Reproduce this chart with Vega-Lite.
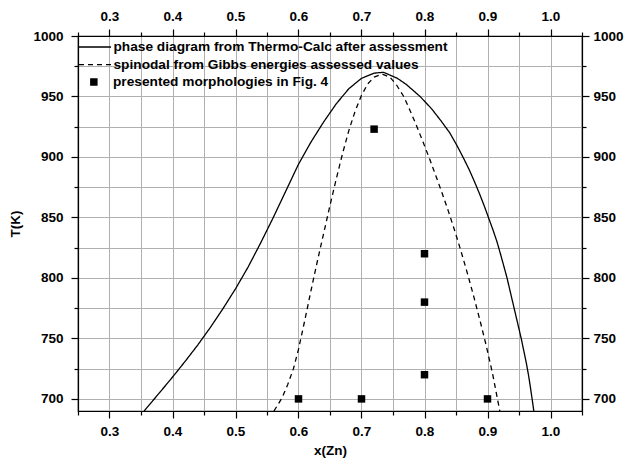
{
  "$schema": "https://vega.github.io/schema/vega-lite/v6.json",
  "autosize": {"type": "none"},
  "width": 504,
  "height": 375,
  "padding": {"left": 78, "top": 36, "right": 42, "bottom": 52},
  "background": "white",
  "config": {
    "view": {"stroke": "black", "strokeWidth": 1.2},
    "font": "Liberation Sans",
    "axis": {
      "domainColor": "black",
      "domainWidth": 1.2,
      "tickColor": "black",
      "tickWidth": 1.2,
      "labelFont": "Liberation Sans",
      "labelFontWeight": "bold",
      "labelFontSize": 13.5,
      "labelColor": "black",
      "titleFont": "Liberation Sans",
      "titleFontWeight": "bold",
      "titleFontSize": 13.5,
      "titleColor": "black",
      "gridColor": "#b0b0b0",
      "gridWidth": 1,
      "gridOpacity": 1,
      "labelOverlap": false
    },
    "legend": {
      "labelFont": "Liberation Sans",
      "labelFontWeight": "bold",
      "labelFontSize": 13.7,
      "labelColor": "black",
      "labelLimit": 0,
      "padding": 0,
      "clipHeight": 16,
      "rowPadding": 1.6
    }
  },
  "datasets": {
    "curves": [
      {"series": "phase diagram from Thermo-Calc after assessment", "i": 1, "x": 0.355, "T": 690},
      {"series": "phase diagram from Thermo-Calc after assessment", "i": 2, "x": 0.38, "T": 705.5},
      {"series": "phase diagram from Thermo-Calc after assessment", "i": 3, "x": 0.40, "T": 718},
      {"series": "phase diagram from Thermo-Calc after assessment", "i": 4, "x": 0.42, "T": 731},
      {"series": "phase diagram from Thermo-Calc after assessment", "i": 5, "x": 0.44, "T": 744.5},
      {"series": "phase diagram from Thermo-Calc after assessment", "i": 6, "x": 0.46, "T": 759},
      {"series": "phase diagram from Thermo-Calc after assessment", "i": 7, "x": 0.48, "T": 774.5},
      {"series": "phase diagram from Thermo-Calc after assessment", "i": 8, "x": 0.50, "T": 791},
      {"series": "phase diagram from Thermo-Calc after assessment", "i": 9, "x": 0.52, "T": 809},
      {"series": "phase diagram from Thermo-Calc after assessment", "i": 10, "x": 0.54, "T": 829},
      {"series": "phase diagram from Thermo-Calc after assessment", "i": 11, "x": 0.56, "T": 850},
      {"series": "phase diagram from Thermo-Calc after assessment", "i": 12, "x": 0.58, "T": 872},
      {"series": "phase diagram from Thermo-Calc after assessment", "i": 13, "x": 0.60, "T": 894},
      {"series": "phase diagram from Thermo-Calc after assessment", "i": 14, "x": 0.62, "T": 912.5},
      {"series": "phase diagram from Thermo-Calc after assessment", "i": 15, "x": 0.64, "T": 929},
      {"series": "phase diagram from Thermo-Calc after assessment", "i": 16, "x": 0.66, "T": 944},
      {"series": "phase diagram from Thermo-Calc after assessment", "i": 17, "x": 0.68, "T": 956.5},
      {"series": "phase diagram from Thermo-Calc after assessment", "i": 18, "x": 0.70, "T": 965},
      {"series": "phase diagram from Thermo-Calc after assessment", "i": 19, "x": 0.72, "T": 969.3},
      {"series": "phase diagram from Thermo-Calc after assessment", "i": 20, "x": 0.735, "T": 970},
      {"series": "phase diagram from Thermo-Calc after assessment", "i": 21, "x": 0.757, "T": 965},
      {"series": "phase diagram from Thermo-Calc after assessment", "i": 22, "x": 0.771, "T": 960},
      {"series": "phase diagram from Thermo-Calc after assessment", "i": 23, "x": 0.793, "T": 950},
      {"series": "phase diagram from Thermo-Calc after assessment", "i": 24, "x": 0.811, "T": 940},
      {"series": "phase diagram from Thermo-Calc after assessment", "i": 25, "x": 0.826, "T": 930},
      {"series": "phase diagram from Thermo-Calc after assessment", "i": 26, "x": 0.840, "T": 920},
      {"series": "phase diagram from Thermo-Calc after assessment", "i": 27, "x": 0.851, "T": 910},
      {"series": "phase diagram from Thermo-Calc after assessment", "i": 28, "x": 0.861, "T": 900},
      {"series": "phase diagram from Thermo-Calc after assessment", "i": 29, "x": 0.8705, "T": 890},
      {"series": "phase diagram from Thermo-Calc after assessment", "i": 30, "x": 0.879, "T": 880},
      {"series": "phase diagram from Thermo-Calc after assessment", "i": 31, "x": 0.887, "T": 870},
      {"series": "phase diagram from Thermo-Calc after assessment", "i": 32, "x": 0.8945, "T": 860},
      {"series": "phase diagram from Thermo-Calc after assessment", "i": 33, "x": 0.9015, "T": 850},
      {"series": "phase diagram from Thermo-Calc after assessment", "i": 34, "x": 0.9085, "T": 840},
      {"series": "phase diagram from Thermo-Calc after assessment", "i": 35, "x": 0.915, "T": 830},
      {"series": "phase diagram from Thermo-Calc after assessment", "i": 36, "x": 0.9205, "T": 820},
      {"series": "phase diagram from Thermo-Calc after assessment", "i": 37, "x": 0.9258, "T": 810},
      {"series": "phase diagram from Thermo-Calc after assessment", "i": 38, "x": 0.931, "T": 800},
      {"series": "phase diagram from Thermo-Calc after assessment", "i": 39, "x": 0.9355, "T": 790},
      {"series": "phase diagram from Thermo-Calc after assessment", "i": 40, "x": 0.940, "T": 780},
      {"series": "phase diagram from Thermo-Calc after assessment", "i": 41, "x": 0.9445, "T": 770},
      {"series": "phase diagram from Thermo-Calc after assessment", "i": 42, "x": 0.949, "T": 760},
      {"series": "phase diagram from Thermo-Calc after assessment", "i": 43, "x": 0.9535, "T": 750},
      {"series": "phase diagram from Thermo-Calc after assessment", "i": 44, "x": 0.9575, "T": 740},
      {"series": "phase diagram from Thermo-Calc after assessment", "i": 45, "x": 0.9615, "T": 730},
      {"series": "phase diagram from Thermo-Calc after assessment", "i": 46, "x": 0.965, "T": 720},
      {"series": "phase diagram from Thermo-Calc after assessment", "i": 47, "x": 0.968, "T": 710},
      {"series": "phase diagram from Thermo-Calc after assessment", "i": 48, "x": 0.9708, "T": 700},
      {"series": "phase diagram from Thermo-Calc after assessment", "i": 49, "x": 0.9735, "T": 690},
      {"series": "spinodal from Gibbs energies assessed values", "i": 1, "x": 0.561, "T": 690},
      {"series": "spinodal from Gibbs energies assessed values", "i": 2, "x": 0.567, "T": 695},
      {"series": "spinodal from Gibbs energies assessed values", "i": 3, "x": 0.574, "T": 701},
      {"series": "spinodal from Gibbs energies assessed values", "i": 4, "x": 0.583, "T": 712},
      {"series": "spinodal from Gibbs energies assessed values", "i": 5, "x": 0.592, "T": 725},
      {"series": "spinodal from Gibbs energies assessed values", "i": 6, "x": 0.60, "T": 741},
      {"series": "spinodal from Gibbs energies assessed values", "i": 7, "x": 0.61, "T": 765},
      {"series": "spinodal from Gibbs energies assessed values", "i": 8, "x": 0.62, "T": 790},
      {"series": "spinodal from Gibbs energies assessed values", "i": 9, "x": 0.63, "T": 814},
      {"series": "spinodal from Gibbs energies assessed values", "i": 10, "x": 0.64, "T": 837},
      {"series": "spinodal from Gibbs energies assessed values", "i": 11, "x": 0.65, "T": 860},
      {"series": "spinodal from Gibbs energies assessed values", "i": 12, "x": 0.66, "T": 882},
      {"series": "spinodal from Gibbs energies assessed values", "i": 13, "x": 0.67, "T": 903},
      {"series": "spinodal from Gibbs energies assessed values", "i": 14, "x": 0.68, "T": 922},
      {"series": "spinodal from Gibbs energies assessed values", "i": 15, "x": 0.69, "T": 938},
      {"series": "spinodal from Gibbs energies assessed values", "i": 16, "x": 0.70, "T": 951},
      {"series": "spinodal from Gibbs energies assessed values", "i": 17, "x": 0.71, "T": 960.5},
      {"series": "spinodal from Gibbs energies assessed values", "i": 18, "x": 0.72, "T": 966},
      {"series": "spinodal from Gibbs energies assessed values", "i": 19, "x": 0.733, "T": 968.5},
      {"series": "spinodal from Gibbs energies assessed values", "i": 20, "x": 0.745, "T": 966},
      {"series": "spinodal from Gibbs energies assessed values", "i": 21, "x": 0.755, "T": 960},
      {"series": "spinodal from Gibbs energies assessed values", "i": 22, "x": 0.767, "T": 950},
      {"series": "spinodal from Gibbs energies assessed values", "i": 23, "x": 0.777, "T": 938.5},
      {"series": "spinodal from Gibbs energies assessed values", "i": 24, "x": 0.788, "T": 925},
      {"series": "spinodal from Gibbs energies assessed values", "i": 25, "x": 0.798, "T": 912},
      {"series": "spinodal from Gibbs energies assessed values", "i": 26, "x": 0.808, "T": 898.5},
      {"series": "spinodal from Gibbs energies assessed values", "i": 27, "x": 0.818, "T": 884.5},
      {"series": "spinodal from Gibbs energies assessed values", "i": 28, "x": 0.828, "T": 870},
      {"series": "spinodal from Gibbs energies assessed values", "i": 29, "x": 0.838, "T": 855},
      {"series": "spinodal from Gibbs energies assessed values", "i": 30, "x": 0.848, "T": 839},
      {"series": "spinodal from Gibbs energies assessed values", "i": 31, "x": 0.858, "T": 822},
      {"series": "spinodal from Gibbs energies assessed values", "i": 32, "x": 0.868, "T": 804},
      {"series": "spinodal from Gibbs energies assessed values", "i": 33, "x": 0.878, "T": 785},
      {"series": "spinodal from Gibbs energies assessed values", "i": 34, "x": 0.888, "T": 765},
      {"series": "spinodal from Gibbs energies assessed values", "i": 35, "x": 0.898, "T": 744},
      {"series": "spinodal from Gibbs energies assessed values", "i": 36, "x": 0.908, "T": 721},
      {"series": "spinodal from Gibbs energies assessed values", "i": 37, "x": 0.9195, "T": 690}
    ],
    "points": [
      {"series": "presented morphologies in Fig. 4", "x": 0.6, "T": 700},
      {"series": "presented morphologies in Fig. 4", "x": 0.7, "T": 700},
      {"series": "presented morphologies in Fig. 4", "x": 0.9, "T": 700},
      {"series": "presented morphologies in Fig. 4", "x": 0.8, "T": 720},
      {"series": "presented morphologies in Fig. 4", "x": 0.8, "T": 780},
      {"series": "presented morphologies in Fig. 4", "x": 0.8, "T": 820},
      {"series": "presented morphologies in Fig. 4", "x": 0.72, "T": 923}
    ]
  },
  "resolve": {"axis": {"x": "independent", "y": "independent"}},
  "layer": [
    {
      "data": {"name": "curves"},
      "mark": {"type": "line", "color": "black", "strokeWidth": 1.3, "interpolate": "linear", "clip": true},
      "encoding": {
        "x": {
          "field": "x", "type": "quantitative",
          "scale": {"domain": [0.25, 1.05], "nice": false, "zero": false},
          "axis": {
            "orient": "bottom",
            "values": [0.25, 0.3, 0.35, 0.4, 0.45, 0.5, 0.55, 0.6, 0.65, 0.7, 0.75, 0.8, 0.85, 0.9, 0.95, 1.0, 1.05],
            "grid": true,
            "labelExpr": "abs(datum.value*10 - round(datum.value*10)) < 0.001 ? format(datum.value, '.1f') : ''",
            "tickSize": {"condition": {"test": "abs(datum.value*10 - round(datum.value*10)) < 0.001", "value": 7}, "value": 4},
            "labelPadding": 6,
            "title": "x(Zn)",
            "titlePadding": 6
          }
        },
        "y": {
          "field": "T", "type": "quantitative",
          "scale": {"domain": [690, 1000], "nice": false, "zero": false},
          "axis": {
            "orient": "left",
            "values": [700, 725, 750, 775, 800, 825, 850, 875, 900, 925, 950, 975, 1000],
            "grid": true,
            "labelExpr": "datum.value % 50 == 0 ? format(datum.value, 'd') : ''",
            "tickSize": {"condition": {"test": "datum.value % 50 == 0", "value": 7}, "value": 4},
            "labelPadding": 8,
            "title": "T(K)",
            "titleX": -56
          }
        },
        "order": {"field": "i", "type": "quantitative"},
        "strokeDash": {
          "field": "series", "type": "nominal",
          "scale": {"domain": ["phase diagram from Thermo-Calc after assessment", "spinodal from Gibbs energies assessed values"], "range": [[1, 0], [5, 4]]},
          "legend": {
            "title": null,
            "orient": "none",
            "legendX": 0,
            "legendY": 3,
            "symbolSize": 1024,
            "symbolStrokeColor": "black",
            "symbolStrokeWidth": 1.3,
            "labelOffset": 1.5
          }
        }
      }
    },
    {
      "data": {"name": "points"},
      "mark": {"type": "point", "shape": "square", "filled": true, "color": "black", "opacity": 1, "size": 56},
      "encoding": {
        "x": {
          "field": "x", "type": "quantitative",
          "axis": {
            "orient": "top",
            "values": [0.25, 0.3, 0.35, 0.4, 0.45, 0.5, 0.55, 0.6, 0.65, 0.7, 0.75, 0.8, 0.85, 0.9, 0.95, 1.0, 1.05],
            "grid": false,
            "labelExpr": "abs(datum.value*10 - round(datum.value*10)) < 0.001 ? format(datum.value, '.1f') : ''",
            "tickSize": {"condition": {"test": "abs(datum.value*10 - round(datum.value*10)) < 0.001", "value": 7}, "value": 4},
            "labelPadding": 6,
            "title": null
          }
        },
        "y": {
          "field": "T", "type": "quantitative",
          "axis": {
            "orient": "right",
            "values": [700, 725, 750, 775, 800, 825, 850, 875, 900, 925, 950, 975, 1000],
            "grid": false,
            "labelExpr": "datum.value % 50 == 0 ? format(datum.value, 'd') : ''",
            "tickSize": {"condition": {"test": "datum.value % 50 == 0", "value": 7}, "value": 4},
            "labelPadding": 4,
            "title": null
          }
        },
        "shape": {
          "field": "series", "type": "nominal",
          "scale": {"domain": ["presented morphologies in Fig. 4"], "range": ["square"]},
          "legend": {
            "title": null,
            "orient": "none",
            "legendX": 9,
            "legendY": 38,
            "symbolSize": 56,
            "symbolFillColor": "black",
            "symbolStrokeColor": "black",
            "symbolStrokeWidth": 0,
            "labelOffset": 12.3
          }
        }
      }
    }
  ]
}
